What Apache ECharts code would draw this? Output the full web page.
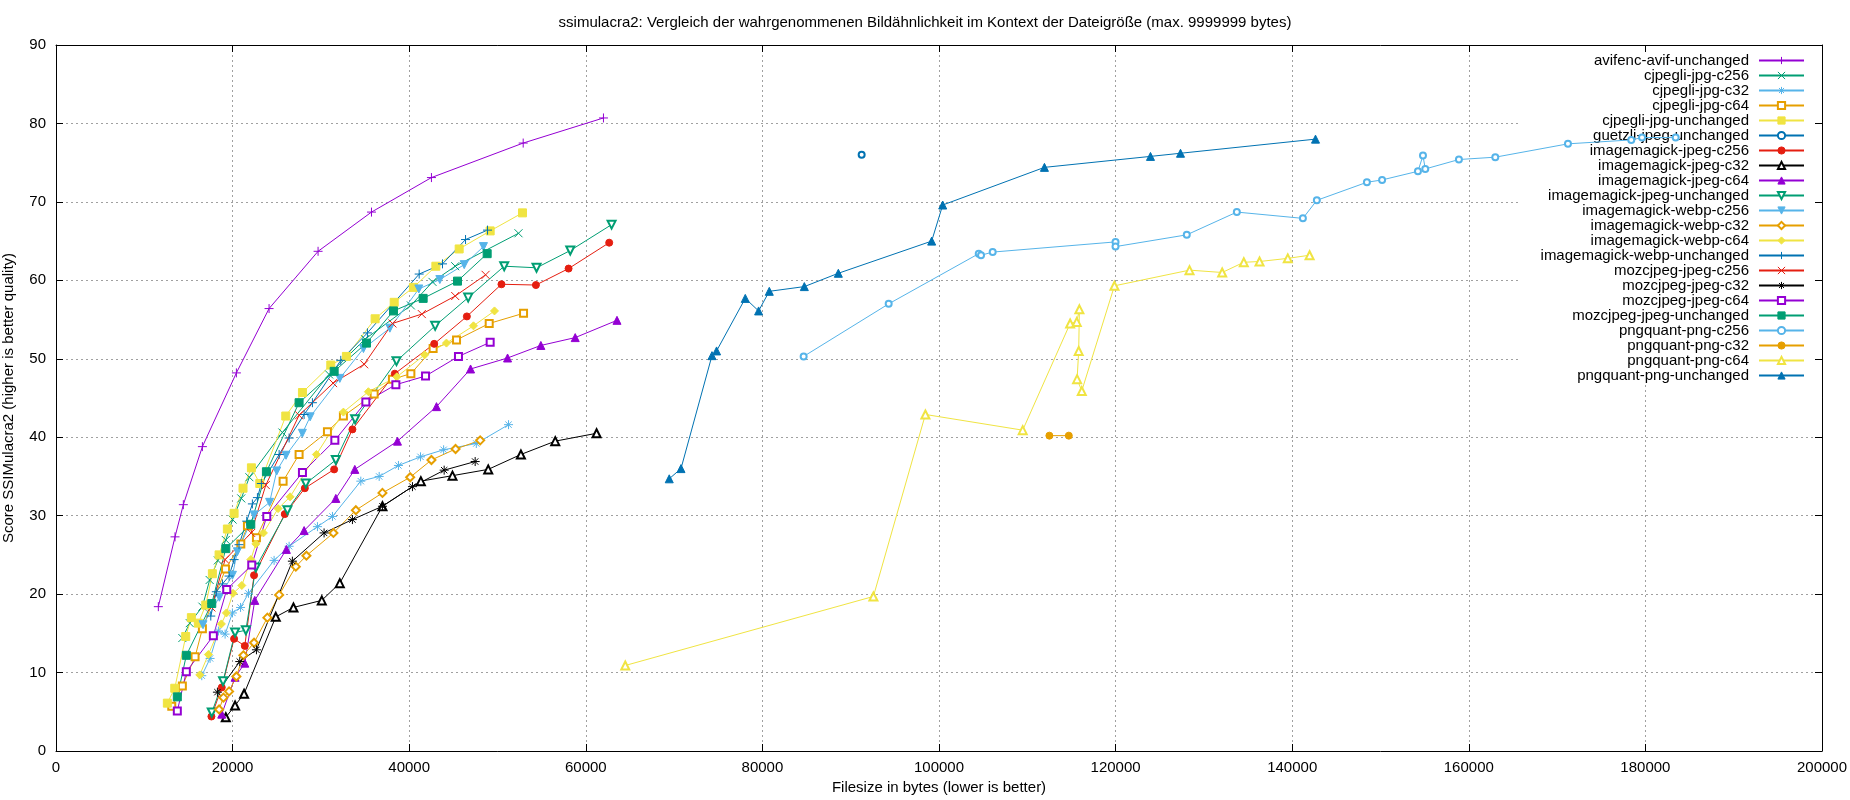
<!DOCTYPE html>
<html>
<head>
<meta charset="utf-8">
<script src="https://cdn.jsdelivr.net/npm/echarts@6/dist/echarts.min.js"></script>
<style>
html, body { margin: 0; padding: 0; background: #fff; }
#chart { width: 1850px; height: 800px; }
</style>
</head>
<body>
<div id="chart"></div>
<script>
"use strict";
// values: [filesize in bytes, ssimulacra2 score]
const avifencAvifUnchanged = [[11590, 18.4], [13480, 27.3], [14420, 31.4], [16580, 38.8], [20430, 48.2], [24130, 56.4], [29680, 63.7], [35730, 68.7], [42520, 73.1], [52910, 77.5], [62000, 80.7]];
const cjpegliJpgC256 = [[14310, 14.4], [15150, 16.3], [16580, 18.4], [17400, 21.8], [18330, 24.3], [19230, 26.9], [20000, 29.5], [20980, 32.2], [21900, 34.9], [25640, 40.6], [30930, 48.0], [35000, 52.5], [40190, 56.8], [42640, 59.8], [45210, 61.8], [52380, 66.0]];
const cjpegliJpgC32 = [[16510, 9.6], [17450, 11.8], [18390, 15.3], [19150, 14.9], [19980, 17.6], [20900, 18.3], [21800, 20.1], [24700, 24.3], [26400, 26.1], [29610, 28.6], [31310, 29.9], [34520, 34.4], [36600, 35.0], [38780, 36.4], [41280, 37.5], [43900, 38.4], [47600, 39.2], [51250, 41.6]];
const cjpegliJpgC64 = [[13110, 5.7], [14310, 8.3], [15750, 12.0], [16580, 15.6], [19200, 23.2], [20930, 26.4], [21680, 28.7], [22700, 27.2], [25720, 34.4], [27530, 37.8], [30740, 40.7], [32550, 42.7], [36030, 45.5], [38100, 47.4], [40190, 48.1], [42710, 51.3], [45360, 52.4], [49060, 54.5], [52950, 55.8]];
const cjpegliJpgUnchanged = [[12610, 6.1], [13450, 8.0], [14690, 14.6], [15330, 17.0], [16120, 16.3], [16960, 18.6], [17710, 22.6], [18470, 25.0], [19410, 28.3], [20170, 30.3], [21180, 33.5], [22130, 36.1], [23080, 34.1], [26020, 42.7], [27910, 45.7], [31120, 49.2], [32890, 50.3], [36140, 55.1], [38300, 57.2], [40480, 59.1], [43020, 61.8], [45660, 64.0], [49170, 66.3], [52830, 68.6]];
const guetzliJpegUnchanged = [[91240, 76.0]];
const imagemagickJpegC256 = [[17600, 4.4], [18770, 8.1], [20170, 14.3], [21380, 13.4], [22430, 22.4], [25910, 30.2], [28180, 33.5], [31500, 35.9], [33570, 41.0], [38370, 48.1], [42830, 51.9], [46530, 55.4], [50450, 59.5], [54350, 59.4], [58050, 61.5], [62650, 64.8]];
const imagemagickJpegC32 = [[19230, 4.3], [20280, 5.8], [21300, 7.3], [24890, 17.1], [26890, 18.3], [30100, 19.2], [32140, 21.4], [36970, 31.2], [41320, 34.4], [44900, 35.1], [48950, 35.9], [52650, 37.8], [56540, 39.5], [61220, 40.5]];
const imagemagickJpegC64 = [[18770, 4.7], [20280, 9.4], [21380, 11.2], [22510, 19.2], [26090, 25.7], [28100, 28.1], [31690, 32.2], [33840, 35.9], [38670, 39.5], [43090, 43.9], [46950, 48.7], [51140, 50.1], [54910, 51.7], [58800, 52.7], [63530, 54.9]];
const imagemagickJpegUnchanged = [[17640, 4.9], [18920, 8.9], [20280, 15.1], [21500, 15.4], [22630, 23.4], [26210, 30.7], [28290, 34.1], [31690, 37.1], [33880, 42.3], [38560, 49.7], [42940, 54.2], [46680, 57.8], [50760, 61.8], [54420, 61.6], [58240, 63.8], [62920, 67.1]];
const imagemagickWebpC256 = [[16650, 16.1], [18500, 19.6], [19980, 22.4], [20540, 25.4], [22430, 30.1], [24190, 31.7], [25000, 35.7], [26050, 37.7], [27900, 40.5], [28780, 42.6], [32140, 47.5], [34820, 51.3], [37810, 53.9], [41090, 58.9], [43470, 60.1], [46230, 62.0], [48410, 64.3]];
const imagemagickWebpC32 = [[18470, 5.3], [18960, 6.8], [19600, 7.6], [20430, 9.5], [21220, 12.2], [22430, 13.8], [23940, 17.0], [25270, 19.9], [27160, 23.5], [28360, 24.9], [31420, 27.8], [33960, 30.7], [36970, 32.9], [40110, 34.9], [42520, 37.1], [45250, 38.5], [48040, 39.6]];
const imagemagickWebpC64 = [[16280, 9.7], [17260, 12.3], [18730, 16.2], [19300, 17.6], [20050, 20.1], [21040, 21.1], [22060, 24.4], [22630, 26.4], [23490, 27.8], [25150, 30.9], [26510, 32.4], [29490, 37.8], [32550, 43.2], [35380, 45.8], [38600, 47.7], [41750, 50.5], [44220, 52.0], [47280, 54.2], [49660, 56.1]];
const imagemagickWebpUnchanged = [[17530, 17.2], [18160, 20.3], [18850, 21.3], [19600, 22.3], [20170, 24.4], [20730, 26.3], [21600, 29.3], [22240, 31.5], [22810, 32.3], [23260, 34.1], [25270, 37.8], [26400, 39.9], [28100, 42.9], [29040, 44.4], [32250, 49.8], [35270, 53.3], [41130, 60.8], [43770, 62.1], [46380, 65.2], [48870, 66.4]];
const mozcjpegJpegC256 = [[17600, 18.3], [19150, 24.4], [22100, 27.8], [23760, 33.9], [27530, 42.8], [31380, 46.9], [34900, 49.3], [38100, 54.5], [41430, 55.7], [45210, 58.0], [48650, 60.7]];
const mozcjpegJpegC32 = [[18280, 7.5], [20810, 11.4], [22700, 12.9], [26770, 24.2], [30360, 27.8], [33570, 29.5], [36970, 31.2], [40370, 33.7], [43960, 35.8], [47470, 36.9]];
const mozcjpegJpegC64 = [[13740, 5.1], [14760, 10.1], [17820, 14.7], [19340, 20.6], [22170, 23.7], [23870, 29.9], [27910, 35.5], [31580, 39.6], [35090, 44.5], [38490, 46.7], [41850, 47.8], [45580, 50.3], [49170, 52.1]];
const mozcjpegJpegUnchanged = [[13740, 6.9], [14760, 12.2], [17640, 18.8], [19230, 25.8], [22060, 28.9], [23830, 35.6], [27530, 44.4], [31500, 48.4], [35160, 52.0], [38220, 56.1], [41580, 57.7], [45470, 59.9], [48830, 63.4]];
const pngquantPngC256 = [[84670, 50.3], [94300, 57.0], [104500, 63.4], [104760, 63.2], [106080, 63.6], [119990, 64.9], [119990, 64.3], [128060, 65.8], [133730, 68.7], [141210, 67.9], [142790, 70.2], [148460, 72.5], [150180, 72.8], [154240, 73.9], [154810, 75.9], [155070, 74.2], [158880, 75.4], [163000, 75.7], [171230, 77.4], [178400, 77.9], [179620, 78.2], [183430, 78.2]];
const pngquantPngC32 = [[112500, 40.2], [114700, 40.2]];
const pngquantPngC64 = [[64470, 10.9], [92570, 19.7], [98460, 42.9], [109480, 40.9], [114850, 54.5], [115600, 54.7], [115900, 56.3], [115820, 51.0], [115640, 47.4], [116170, 45.9], [119870, 59.3], [128370, 61.3], [132070, 61.0], [134520, 62.3], [136300, 62.4], [139500, 62.8], [141970, 63.2]];
const pngquantPngUnchanged = [[69450, 34.7], [70780, 36.0], [74290, 50.4], [74810, 51.0], [78060, 57.7], [79570, 56.1], [80780, 58.6], [84750, 59.2], [88600, 60.9], [99170, 65.0], [100420, 69.6], [111940, 74.4], [123950, 75.8], [127350, 76.2], [142640, 78.0]];

const seriesNames = [
    "avifenc-avif-unchanged", "cjpegli-jpg-c256", "cjpegli-jpg-c32", "cjpegli-jpg-c64", "cjpegli-jpg-unchanged",
    "guetzli-jpeg-unchanged", "imagemagick-jpeg-c256", "imagemagick-jpeg-c32", "imagemagick-jpeg-c64",
    "imagemagick-jpeg-unchanged", "imagemagick-webp-c256", "imagemagick-webp-c32", "imagemagick-webp-c64",
    "imagemagick-webp-unchanged", "mozcjpeg-jpeg-c256", "mozcjpeg-jpeg-c32", "mozcjpeg-jpeg-c64",
    "mozcjpeg-jpeg-unchanged", "pngquant-png-c256", "pngquant-png-c32", "pngquant-png-c64", "pngquant-png-unchanged",
];
const seriesValues = [
    avifencAvifUnchanged, cjpegliJpgC256, cjpegliJpgC32, cjpegliJpgC64, cjpegliJpgUnchanged,
    guetzliJpegUnchanged, imagemagickJpegC256, imagemagickJpegC32, imagemagickJpegC64,
    imagemagickJpegUnchanged, imagemagickWebpC256, imagemagickWebpC32, imagemagickWebpC64,
    imagemagickWebpUnchanged, mozcjpegJpegC256, mozcjpegJpegC32, mozcjpegJpegC64,
    mozcjpegJpegUnchanged, pngquantPngC256, pngquantPngC32, pngquantPngC64, pngquantPngUnchanged,
];
const xTicks = { min: 0, max: 200000, step: 20000 };
const yTicks = { min: 0, max: 90, step: 10 };

// gnuplot default line colours (8) and point types (13), both cycling
const palette = ["#9400d3", "#009e73", "#56b4e9", "#e69f00", "#f0e442", "#0072b2", "#e51e10", "#000000"];
const markers = [
    { symbol: "path://M5 0V10M0 5H10", size: 9 },
    { symbol: "path://M0 0L10 10M10 0L0 10", size: 8 },
    { symbol: "path://M5 0V10M5 5H0M5 5H10M5 5L1.5 1.5M5 5L8.5 8.5M5 5L8.5 1.5M5 5L1.5 8.5", size: 9 },
    { symbol: "emptyRect", size: 7 },
    { symbol: "rect", size: 8 },
    { symbol: "emptyCircle", size: 6 },
    { symbol: "circle", size: 7 },
    { symbol: "emptyTriangle", size: 8 },
    { symbol: "triangle", size: 8 },
    { symbol: "emptyTriangle", size: 8, rotate: 180 },
    { symbol: "triangle", size: 8, rotate: 180 },
    { symbol: "emptyDiamond", size: 8 },
    { symbol: "diamond", size: 8 },
];
const font = "Liberation Sans, Arial, sans-serif";
const gridLine = { show: true, lineStyle: { color: "#a0a0a0", width: 1, type: [2, 3] } };
const plainNumber = (v) => String(v);

const chart = echarts.init(document.getElementById("chart"));
chart.setOption({
    animation: false,
    backgroundColor: "#fff",
    title: {
        text: "ssimulacra2: Vergleich der wahrgenommenen Bildähnlichkeit im Kontext der Dateigröße (max. 9999999 bytes)",
        left: "center",
        top: 10,
        textStyle: { fontFamily: font, fontSize: 15, fontWeight: "normal", color: "#000" },
    },
    grid: { left: 56, right: 28, top: 45, bottom: 49, containLabel: false, outerBoundsMode: "none" },
    legend: {
        orient: "vertical",
        right: 29,
        top: 47,
        align: "right",
        z: 1,
        backgroundColor: "#fff",
        padding: [6, 16, 0, 8],
        itemGap: 0,
        itemWidth: 45,
        itemHeight: 9,
        selectedMode: false,
        itemStyle: { borderWidth: 1 },
        textStyle: { fontFamily: font, fontSize: 15, color: "#000", width: 222, align: "right", lineHeight: 15, padding: [0, 5, 0, 0] },
        data: seriesNames,
    },
    xAxis: [
        {
            type: "value", position: "bottom", z: 0,
            min: xTicks.min, max: xTicks.max, interval: xTicks.step,
            name: "Filesize in bytes (lower is better)", nameLocation: "middle", nameGap: 26,
            nameTextStyle: { fontFamily: font, fontSize: 15, color: "#000" },
            axisLine: { show: true, onZero: false, lineStyle: { color: "#000", width: 1 } },
            axisTick: { show: true, inside: true, length: 7, lineStyle: { color: "#000" } },
            axisLabel: { fontFamily: font, fontSize: 15, color: "#000", margin: 9, formatter: plainNumber },
            splitLine: gridLine,
        },
        {
            type: "value", position: "top", z: 3,
            min: xTicks.min, max: xTicks.max, interval: xTicks.step,
            axisLine: { show: true, onZero: false, lineStyle: { color: "#000", width: 1 } },
            axisTick: { show: true, inside: true, length: 7, lineStyle: { color: "#000" } },
            axisLabel: { show: false },
            splitLine: { show: false },
        },
    ],
    yAxis: [
        {
            type: "value", position: "left", z: 0,
            min: yTicks.min, max: yTicks.max, interval: yTicks.step,
            name: "Score SSIMulacra2 (higher is better quality)", nameLocation: "middle", nameGap: 40,
            nameTextStyle: { fontFamily: font, fontSize: 15, color: "#000" },
            axisLine: { show: true, onZero: false, lineStyle: { color: "#000", width: 1 } },
            axisTick: { show: true, inside: true, length: 7, lineStyle: { color: "#000" } },
            axisLabel: { fontFamily: font, fontSize: 15, color: "#000", margin: 10, formatter: plainNumber },
            splitLine: gridLine,
        },
        {
            type: "value", position: "right", z: 3,
            min: yTicks.min, max: yTicks.max, interval: yTicks.step,
            axisLine: { show: true, onZero: false, lineStyle: { color: "#000", width: 1 } },
            axisTick: { show: true, inside: true, length: 7, lineStyle: { color: "#000" } },
            axisLabel: { show: false },
            splitLine: { show: false },
        },
    ],
    series: seriesNames.map((name, i) => {
        const color = palette[i % palette.length];
        const m = markers[i % markers.length];
        return {
            name,
            type: "line",
            data: seriesValues[i],
            xAxisIndex: 0,
            yAxisIndex: 0,
            z: 2,
            symbol: m.symbol,
            symbolSize: m.size,
            symbolRotate: m.rotate || 0,
            showSymbol: true,
            showAllSymbol: true,
            lineStyle: { color, width: 1 },
            itemStyle: { color, borderColor: color, borderWidth: 1 },
            emphasis: { disabled: true },
        };
    }),
});
</script>
</body>
</html>
